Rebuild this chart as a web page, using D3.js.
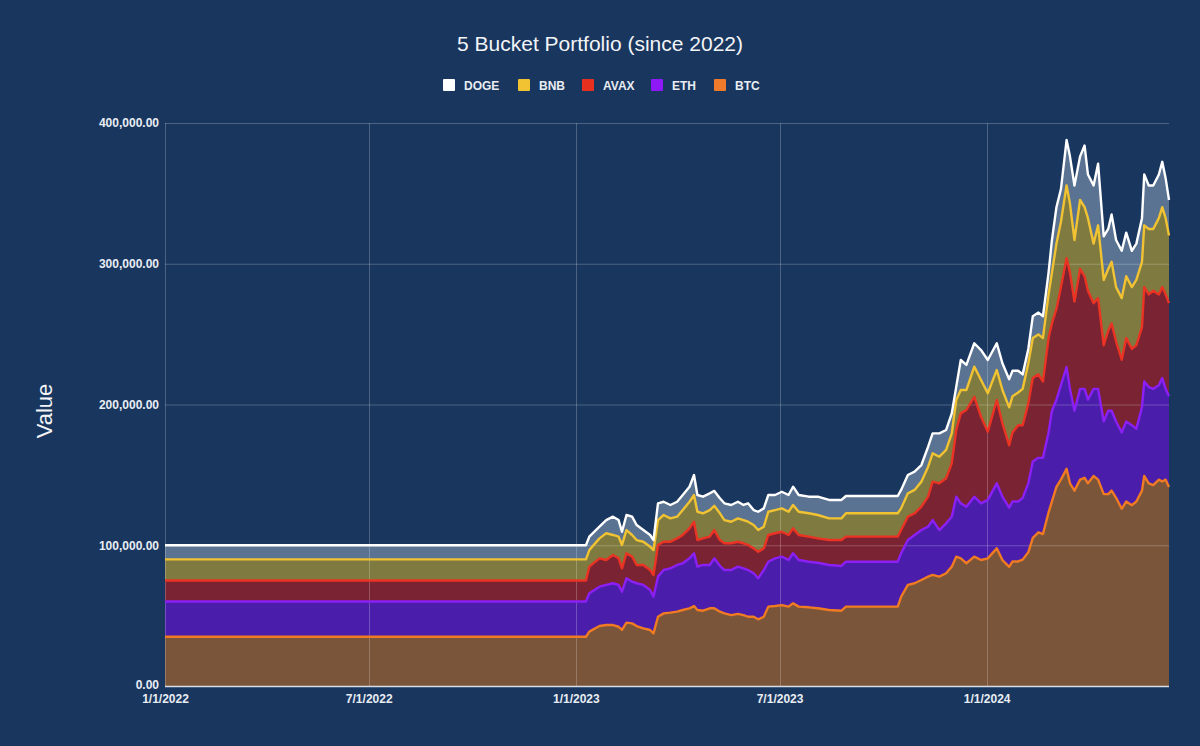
<!DOCTYPE html>
<html>
<head>
<meta charset="utf-8">
<script src="https://cdn.jsdelivr.net/npm/d3@7"></script>
<style>
  html, body { margin: 0; padding: 0; background: #19365e; }
  svg { display: block; }
</style>
</head>
<body>
<svg id="chart" width="1200" height="746"></svg>
<script>
// ---- Data ----
const dates = [
  "2022-01-01","2023-01-10","2023-01-13","2023-01-22","2023-01-28","2023-02-03","2023-02-08","2023-02-11",
  "2023-02-15","2023-02-20","2023-02-24","2023-03-02","2023-03-08","2023-03-11","2023-03-15","2023-03-20",
  "2023-03-26","2023-04-01","2023-04-06","2023-04-12","2023-04-16","2023-04-19","2023-04-24","2023-04-30",
  "2023-05-04","2023-05-09","2023-05-13","2023-05-19","2023-05-25","2023-05-30","2023-06-03","2023-06-08",
  "2023-06-12","2023-06-17","2023-06-21","2023-06-27","2023-07-03","2023-07-09","2023-07-13","2023-07-18",
  "2023-07-27","2023-08-04","2023-08-14","2023-08-25","2023-08-29","2023-10-14","2023-10-17","2023-10-23",
  "2023-10-29","2023-11-04","2023-11-10","2023-11-14","2023-11-20","2023-11-26","2023-12-01","2023-12-05",
  "2023-12-09","2023-12-14","2023-12-21","2023-12-27","2024-01-02","2024-01-10","2024-01-15","2024-01-21",
  "2024-01-24","2024-01-29","2024-02-02","2024-02-07","2024-02-11","2024-02-16","2024-02-20","2024-02-25",
  "2024-02-28","2024-03-03","2024-03-07","2024-03-12","2024-03-15","2024-03-19","2024-03-24","2024-03-28",
  "2024-03-31","2024-04-05","2024-04-09","2024-04-14","2024-04-18","2024-04-21","2024-04-25","2024-04-30",
  "2024-05-04","2024-05-09","2024-05-13","2024-05-18","2024-05-20","2024-05-24","2024-05-28","2024-06-02",
  "2024-06-05","2024-06-08","2024-06-11"
];

const BTC = [
  35000,35000,38600,42600,43300,43300,42100,39800,45000,44500,42600,41000,39800,37400,49200,51600,
  52100,52800,54000,55200,56800,54000,53500,55200,55200,52800,51600,50400,51200,50400,49200,49200,
  47400,49200,56400,56800,57500,56400,58800,56400,55900,55200,54000,53500,56400,56400,63400,71800,
  73000,75300,77700,78900,77700,80100,84800,91900,90700,87200,91900,89500,90700,97800,89500,84700,
  88500,88500,89800,95000,105300,109200,107900,123300,131100,141400,146600,154300,144000,138800,146600,147900,
  144000,149200,146600,136300,136300,138800,133700,125900,131100,128500,131100,138800,149200,144000,142700,146600,
  145300,146600,141400
];
const ETH = [
  25000,25000,27300,28000,28500,29700,29700,27200,31500,29600,30400,30800,28400,26000,28500,30800,
  31500,33200,33200,35500,37500,30800,32500,30800,35500,32600,30800,32000,33600,33200,33200,30900,
  29100,33200,31900,33900,34400,33100,35500,33100,32400,32400,32000,31800,31900,31900,30900,31900,
  34300,35500,35500,39000,33100,35500,35500,42600,39100,40200,42600,40300,41500,46200,45000,42000,
  42600,42600,43900,49000,54200,52900,54200,56800,64500,62000,67100,72300,67100,56800,64500,63200,
  59400,61900,64500,51600,59300,56800,54200,54200,56800,56800,51600,59400,67100,68400,68400,67100,
  73500,64500,64500
];
const AVAX = [
  15000,15000,18900,20100,17700,20100,18900,16600,17800,17800,13000,14200,14200,15500,22500,20100,
  18900,18900,20100,21300,22400,18900,18900,20100,20100,18300,19000,19000,17700,17800,17800,17700,
  18900,15400,19000,17800,17700,17800,17700,17800,17800,17300,17700,18400,17800,17800,16500,16600,
  15400,16600,21300,27300,33200,32000,37900,47400,63900,68700,71000,61500,48500,59200,52100,44300,
  49000,54200,51600,56800,59300,59300,54200,67100,62000,64500,69700,77400,82600,77500,85200,80000,
  77400,60900,64500,54200,56800,62000,56800,51700,59300,54200,59400,56800,67100,65800,69700,64500,
  64600,67100,66100
];
const BNB = [
  15000,15000,11800,14200,19000,14200,15400,16600,16500,15400,17700,16500,16600,17700,17700,19000,
  16600,15400,17700,18900,19000,20100,17800,18900,17200,19000,16500,15300,16600,16500,16500,16600,
  15400,15400,16500,16500,16600,16500,16600,16500,16600,16600,15400,15400,16600,16600,15400,16600,
  16600,17800,21300,20100,18900,20100,21300,21300,16600,14200,21400,26100,27300,21300,23700,27000,
  25800,23200,25800,28400,28400,28400,30900,31000,36100,46400,46400,51600,49000,43800,49000,49100,
  51600,42300,51700,46400,43900,43800,38700,43800,43900,43900,46400,46400,43900,46500,43900,54200,
  56800,54200,48000
];
const DOGE = [
  10000,10000,9500,8300,9400,13000,11800,9400,10700,13000,10700,8300,8300,7100,11900,9400,
  9500,10600,10700,10700,14200,11900,11800,11900,10600,10700,11900,11900,11800,10700,13100,10600,
  13000,13000,11900,10700,11800,11900,13000,11900,11800,13000,13100,13100,12300,12300,13100,13000,
  13000,11800,14200,14200,16600,14200,14200,9500,21300,17800,16600,21300,23600,19000,19000,20000,
  18100,15500,10300,10300,15500,15500,15500,15500,23200,25900,23300,32300,33600,38700,31000,43800,
  31000,41300,43800,31000,28400,33600,33500,33600,31000,25800,25800,31000,36100,30900,30900,31000,
  32200,28400,25300
];

const keys = ["BTC", "ETH", "AVAX", "BNB", "DOGE"];
const legendOrder = ["DOGE", "BNB", "AVAX", "ETH", "BTC"];
const yTicks = [0, 100000, 200000, 300000, 400000];
const xTicks = ["2022-01-01", "2022-07-01", "2023-01-01", "2023-07-01", "2024-01-01"];
const titleText = "5 Bucket Portfolio (since 2022)";
const yTitle = "Value";

// ---- Styles ----
const lineColor = { BTC: "#f07b22", ETH: "#8c1ff5", AVAX: "#ea3323", BNB: "#f1c232", DOGE: "#ffffff" };
const fillColor = { BTC: "#7b5539", ETH: "#4a1eab", AVAX: "#7a2332", BNB: "#7f7b40", DOGE: "#5a7392" };
const legendColor = { BTC: "#ef7a2c", ETH: "#8e18f6", AVAX: "#e8301e", BNB: "#f1c232", DOGE: "#ffffff" };

const parse = d3.utcParse("%Y-%m-%d");
const series = { BTC, ETH, AVAX, BNB, DOGE };
const table = dates.map((d, i) => {
  const row = { date: parse(d) };
  keys.forEach(k => row[k] = series[k][i]);
  return row;
});

const svg = d3.select("#chart");
const W = 1200, H = 746;
const m = { left: 165, right: 31, top: 123, bottom: 60 };
const iw = W - m.left - m.right, ih = H - m.top - m.bottom;

const x = d3.scaleUtc().domain(d3.extent(table, d => d.date)).range([m.left, m.left + iw]);
const y = d3.scaleLinear().domain([0, 400000]).range([m.top + ih, m.top]);

const stacked = d3.stack().keys(keys)(table);

const area = d3.area().x(d => x(d.data.date)).y0(d => y(d[0])).y1(d => y(d[1]));
const line = d3.line().x(d => x(d.data.date)).y(d => y(d[1]));

const font = "'Liberation Sans', Arial, sans-serif";

// areas
svg.append("g").selectAll("path").data(stacked).join("path")
  .attr("d", area).attr("fill", s => fillColor[s.key]);

// gridlines (drawn above fills)
const grid = svg.append("g");
grid.selectAll("line.h").data(yTicks).join("line")
  .attr("x1", m.left).attr("x2", m.left + iw)
  .attr("y1", d => y(d) + 0.5).attr("y2", d => y(d) + 0.5)
  .attr("stroke", "rgba(255,255,255,0.22)").attr("stroke-width", 1);
grid.selectAll("line.v").data(xTicks).join("line")
  .attr("x1", d => Math.round(x(parse(d))) + 0.5).attr("x2", d => Math.round(x(parse(d))) + 0.5)
  .attr("y1", m.top).attr("y2", m.top + ih)
  .attr("stroke", "rgba(255,255,255,0.22)").attr("stroke-width", 1);

// lines
svg.append("g").selectAll("path").data(stacked).join("path")
  .attr("d", line).attr("fill", "none")
  .attr("stroke", s => lineColor[s.key]).attr("stroke-width", 2.4)
  .attr("stroke-linejoin", "round");

// bottom axis baseline
svg.append("line")
  .attr("x1", m.left).attr("x2", m.left + iw)
  .attr("y1", y(0) + 0.5).attr("y2", y(0) + 0.5)
  .attr("stroke", "#d8dde5").attr("stroke-width", 1.5);

// axes via d3
const fmtY = d3.format(",.2f");
const yAxis = d3.axisLeft(y).tickValues(yTicks).tickFormat(fmtY).tickSize(0).tickPadding(6);
const gy = svg.append("g").attr("transform", `translate(${m.left},0)`).call(yAxis);
gy.select(".domain").remove();
gy.selectAll("text").attr("fill", "#e8edf3").attr("font-family", font)
  .attr("font-size", 12).attr("font-weight", "bold");
gy.selectAll(".tick").filter(d => d === 0).select("text").attr("dy", "0.2em");

const fmtX = d => `${d.getUTCMonth() + 1}/${d.getUTCDate()}/${d.getUTCFullYear()}`;
const xAxis = d3.axisBottom(x).tickValues(xTicks.map(parse)).tickFormat(fmtX).tickSize(0).tickPadding(8);
const gx = svg.append("g").attr("transform", `translate(0,${m.top + ih})`).call(xAxis);
gx.select(".domain").remove();
gx.selectAll("text").attr("fill", "#e8edf3").attr("font-family", font)
  .attr("font-size", 12).attr("font-weight", "bold");

// title
svg.append("text").attr("x", 600).attr("y", 51).attr("text-anchor", "middle")
  .attr("fill", "#f2f4f7").attr("font-family", font).attr("font-size", 21)
  .text(titleText);

// y-axis title
svg.append("text").attr("transform", "translate(52,411) rotate(-90)")
  .attr("text-anchor", "middle").attr("fill", "#f2f4f7")
  .attr("font-family", font).attr("font-size", 22).text(yTitle);

// legend
const legendX = [443, 518, 582, 651, 714];
const lg = svg.append("g");
legendOrder.forEach((k, i) => {
  lg.append("rect").attr("x", legendX[i]).attr("y", 79).attr("width", 12).attr("height", 12)
    .attr("rx", 1).attr("fill", legendColor[k]);
  lg.append("text").attr("x", legendX[i] + 21).attr("y", 89.5)
    .attr("fill", "#e8edf3").attr("font-family", font).attr("font-size", 12)
    .attr("font-weight", "bold").text(k);
});
</script>
</body>
</html>
